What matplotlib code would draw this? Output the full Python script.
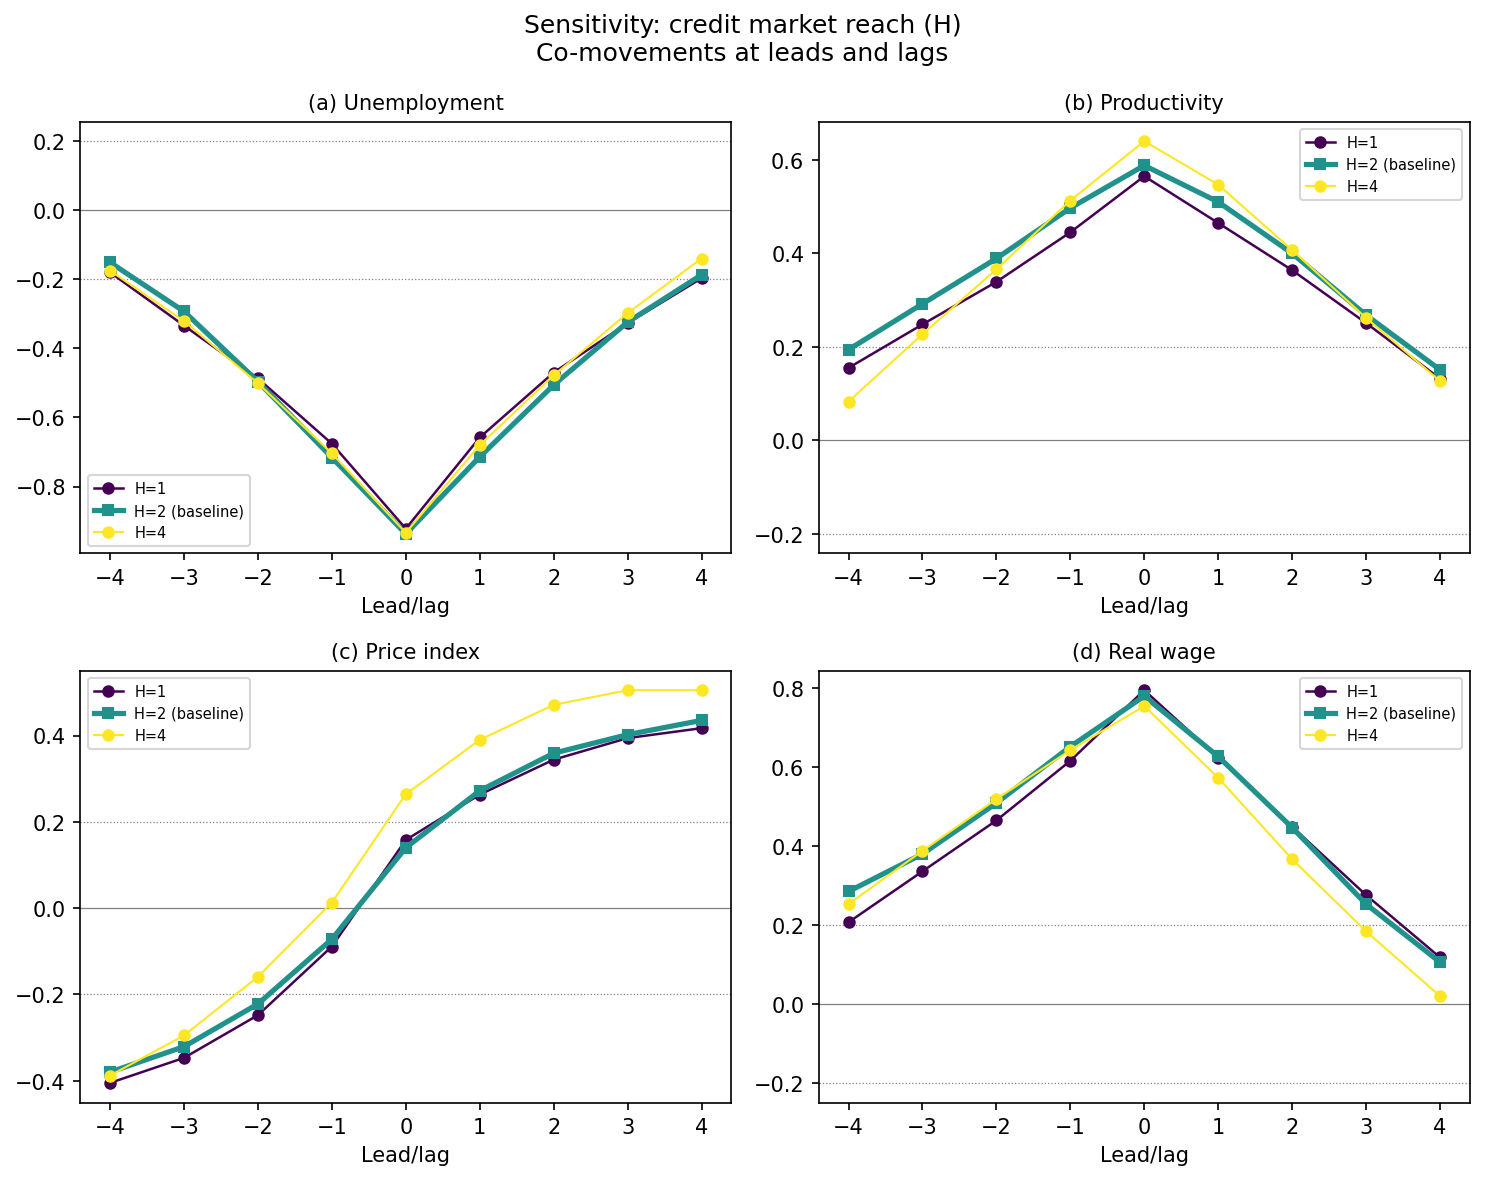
import matplotlib
matplotlib.use("Agg")
import matplotlib.pyplot as plt
import numpy as np

lags = [-4, -3, -2, -1, 0, 1, 2, 3, 4]
series_labels = ["H=1", "H=2 (baseline)", "H=4"]
panel_titles = ["(a) Unemployment", "(b) Productivity", "(c) Price index", "(d) Real wage"]

unemp_h1 = [-0.180, -0.334, -0.487, -0.676, -0.922, -0.658, -0.470, -0.327, -0.197]
unemp_h2 = [-0.151, -0.293, -0.496, -0.716, -0.937, -0.714, -0.506, -0.324, -0.187]
unemp_h4 = [-0.175, -0.321, -0.501, -0.704, -0.934, -0.680, -0.478, -0.298, -0.140]

prod_h1 = [0.155, 0.248, 0.339, 0.445, 0.565, 0.465, 0.364, 0.251, 0.132]
prod_h2 = [0.194, 0.292, 0.389, 0.497, 0.588, 0.510, 0.400, 0.268, 0.151]
prod_h4 = [0.083, 0.227, 0.366, 0.513, 0.640, 0.547, 0.407, 0.262, 0.127]

price_h1 = [-0.405, -0.347, -0.248, -0.089, 0.158, 0.263, 0.344, 0.394, 0.417]
price_h2 = [-0.380, -0.321, -0.222, -0.072, 0.140, 0.272, 0.359, 0.402, 0.435]
price_h4 = [-0.388, -0.295, -0.159, 0.013, 0.264, 0.390, 0.471, 0.505, 0.505]

wage_h1 = [0.207, 0.336, 0.465, 0.616, 0.795, 0.624, 0.449, 0.276, 0.118]
wage_h2 = [0.285, 0.380, 0.509, 0.652, 0.780, 0.627, 0.447, 0.253, 0.106]
wage_h4 = [0.253, 0.388, 0.519, 0.643, 0.755, 0.573, 0.367, 0.184, 0.020]

panels = [
    (unemp_h1, unemp_h2, unemp_h4),
    (prod_h1, prod_h2, prod_h4),
    (price_h1, price_h2, price_h4),
    (wage_h1, wage_h2, wage_h4),
]
legend_locs = ["lower left", "upper right", "upper left", "upper right"]

cmap = plt.get_cmap("viridis")
colors = [cmap(0.0), cmap(0.5), cmap(1.0)]
markers = ["o", "s", "o"]
lws = [1.2, 2.5, 1.0]

fig, axes = plt.subplots(2, 2, figsize=(9.9, 7.873), dpi=150)
fig.subplots_adjust(left=0.0542, right=0.9896, top=0.8963, bottom=0.0656,
                    wspace=0.135, hspace=0.271)
for ax, title, data, loc in zip(axes.flat, panel_titles, panels, legend_locs):
    ax.axhline(0, color="gray", lw=0.6)
    ax.axhline(0.2, color="gray", lw=0.6, ls=":")
    ax.axhline(-0.2, color="gray", lw=0.6, ls=":")
    for vals, lab, c, m, lw in zip(data, series_labels, colors, markers, lws):
        ax.plot(lags, vals, marker=m, color=c, lw=lw, ms=5, label=lab)
    ax.set_title(title, fontsize=10)
    ax.set_xlabel("Lead/lag", fontsize=10)
    ax.set_xticks(lags)
    ax.legend(loc=loc, fontsize=7)

fig.suptitle("Sensitivity: credit market reach (H)\nCo-movements at leads and lags",
             fontsize=12, y=0.988)
fig.savefig("out.png", dpi=150)
